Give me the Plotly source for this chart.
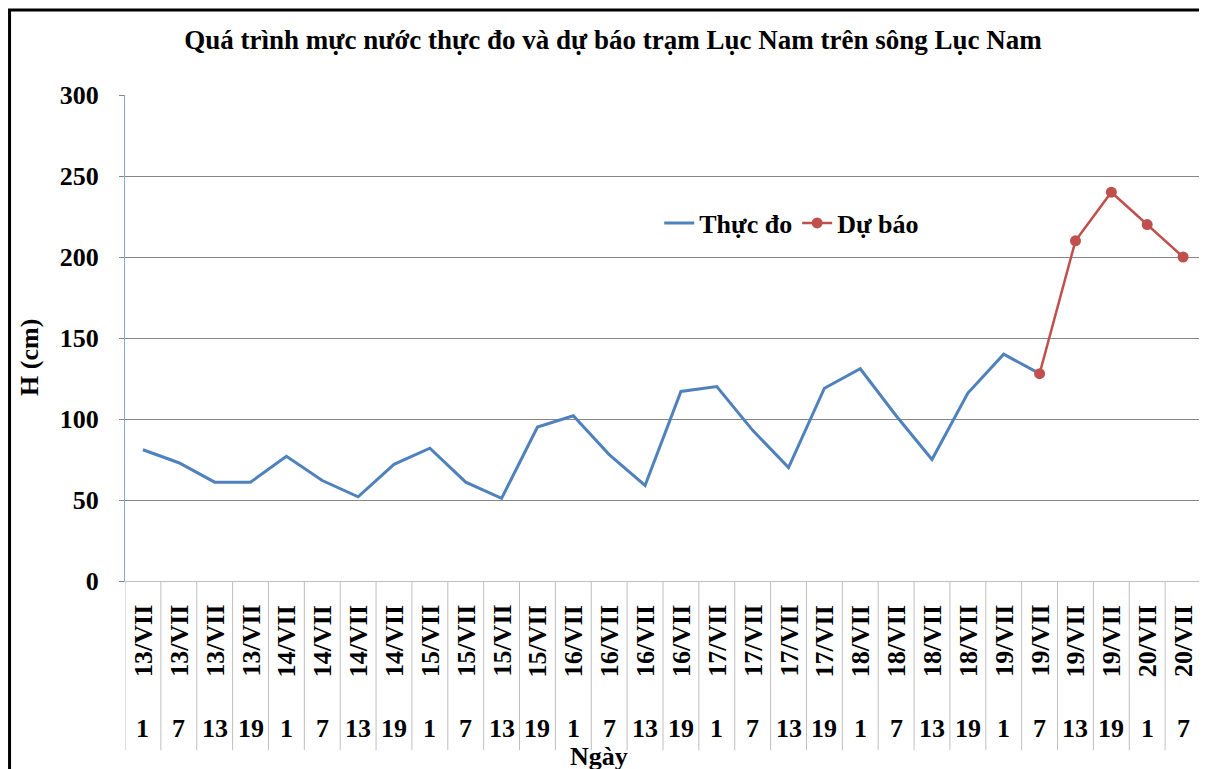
import plotly.graph_objects as go

# ---- data ----
date_labels = ["13/VII", "13/VII", "13/VII", "13/VII",
               "14/VII", "14/VII", "14/VII", "14/VII",
               "15/VII", "15/VII", "15/VII", "15/VII",
               "16/VII", "16/VII", "16/VII", "16/VII",
               "17/VII", "17/VII", "17/VII", "17/VII",
               "18/VII", "18/VII", "18/VII", "18/VII",
               "19/VII", "19/VII", "19/VII", "19/VII",
               "20/VII", "20/VII"]
hour_labels = ["1", "7", "13", "19", "1", "7", "13", "19",
               "1", "7", "13", "19", "1", "7", "13", "19",
               "1", "7", "13", "19", "1", "7", "13", "19",
               "1", "7", "13", "19", "1", "7"]
observed = [81, 73, 61, 61, 77, 62, 52, 72, 82, 61, 51, 95, 102,
            78, 59, 117, 120, 93, 70, 119, 131, 102, 75, 116, 140, 128]
forecast = [128, 210, 240, 220, 200]
forecast_start = 25

title_text = "Quá trình mực nước thực đo và dự báo trạm Lục Nam trên sông Lục Nam"
y_title = "H (cm)"
x_title = "Ngày"
y_ticks = [0, 50, 100, 150, 200, 250, 300]

FONT = "Liberation Serif"
n = len(date_labels)
x_obs = list(range(len(observed)))
x_fc = list(range(forecast_start, forecast_start + len(forecast)))

fig = go.Figure()
fig.add_trace(go.Scatter(
    x=x_obs, y=observed, mode="lines", name="Thực đo",
    line=dict(color="#4F81BD", width=3),
))
fig.add_trace(go.Scatter(
    x=x_fc, y=forecast, mode="lines+markers", name="Dự báo",
    line=dict(color="#C0504D", width=2.5),
    marker=dict(color="#C0504D", size=11),
))

annotations = []
shapes = []
for i in range(n):
    annotations.append(dict(
        x=i, xref="x", y=-0.1235, yref="paper", text=date_labels[i],
        textangle=-90, showarrow=False, xanchor="center", yanchor="middle",
        font=dict(family=FONT, size=26, color="black", weight="bold"),
    ))
    annotations.append(dict(
        x=i, xref="x", y=-0.3045, yref="paper", text=hour_labels[i],
        showarrow=False, xanchor="center", yanchor="middle",
        font=dict(family=FONT, size=26, color="black", weight="bold"),
    ))
for k in range(n + 1):
    shapes.append(dict(
        type="line", xref="x", yref="paper", x0=k - 0.5, x1=k - 0.5,
        y0=0, y1=-0.348, line=dict(color="#BFBFBF", width=1),
    ))

annotations.append(dict(
    x=-0.0883, xref="paper", y=0.461, yref="paper", text=y_title,
    textangle=-90, showarrow=False, xanchor="center", yanchor="middle",
    font=dict(family=FONT, size=26, color="black", weight="bold"),
))
annotations.append(dict(
    x=0.4405, xref="paper", y=-0.362, yref="paper", text=x_title,
    showarrow=False, xanchor="center", yanchor="middle",
    font=dict(family=FONT, size=26, color="black", weight="bold"),
))

# outer frame
shapes.append(dict(type="path", xref="paper", yref="paper",
                   path="M -0.1073,-0.45 L -0.1073,1.1749 L 1.0037,1.1749 L 1.0037,-0.45",
                   line=dict(color="black", width=3)))

fig.update_layout(
    width=1199, height=761,
    margin=dict(l=117, r=6, t=87, b=188),
    paper_bgcolor="white", plot_bgcolor="white",
    font=dict(family=FONT, size=26, color="black", weight="bold"),
    title=dict(text=title_text, x=0.5046, xanchor="center", y=1 - 32 / 761,
               yanchor="middle",
               font=dict(family=FONT, size=27, color="black", weight="bold")),
    showlegend=True,
    legend=dict(orientation="h", x=0.4965, xanchor="left", y=0.7366,
                yanchor="middle", bgcolor="rgba(0,0,0,0)",
                font=dict(family=FONT, size=26, color="black", weight="bold")),
    annotations=annotations,
    shapes=shapes,
)
fig.update_xaxes(
    range=[-0.5, n - 0.5], showgrid=False, zeroline=False,
    showticklabels=False, ticks="", showline=True, linecolor="#BFBFBF",
    linewidth=1,
)
fig.update_yaxes(
    range=[0, 300], tickvals=y_ticks, showgrid=True, gridcolor="#868686",
    gridwidth=1, zeroline=False, showline=True, linecolor="#88A9D6",
    linewidth=1, ticks="outside", ticklen=5, tickcolor="#868686",
    ticklabelstandoff=15,
    tickfont=dict(family=FONT, size=26, color="black", weight="bold"),
)

fig.write_html("out.html")
